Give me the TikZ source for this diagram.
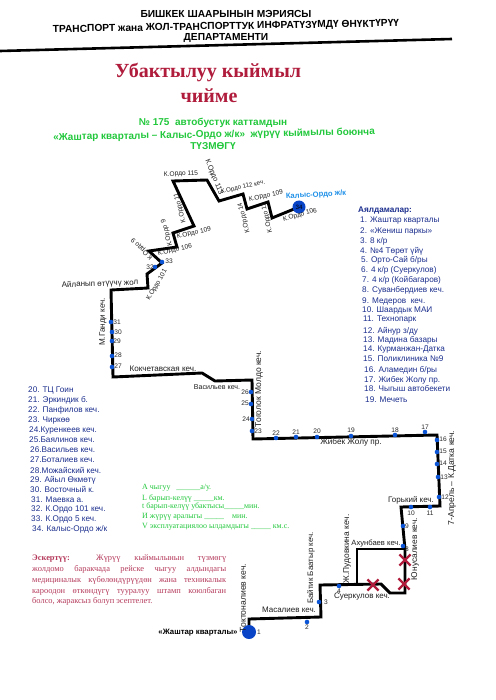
\documentclass[tikz,border=0pt]{standalone}
\usepackage{fontspec}
\setmainfont{Liberation Serif}
\setsansfont{Liberation Sans}
\usetikzlibrary{shapes.misc}
\definecolor{routeblue}{HTML}{0B55D6}
\definecolor{bigblue}{HTML}{0A45C8}
\definecolor{listblue}{HTML}{1C2F8E}
\definecolor{cyanblue}{HTML}{1E90E8}
\definecolor{brightgreen}{HTML}{22C83C}
\definecolor{crimson}{HTML}{B01C3C}
\definecolor{notered}{HTML}{B53A5C}
\newcommand{\fs}[1]{\fontsize{#1}{#1}\selectfont}
\tikzset{
  road/.style={font=\sffamily\fs{8},inner sep=0pt,text=black!88},
  roadv/.style={font=\sffamily\fs{8.5},inner sep=0pt,text=black!88,rotate=90},
  ordo/.style={font=\sffamily\fs{6.6},inner sep=0pt,text=black!88},
  num/.style={font=\sffamily\fs{6.6},inner sep=0pt,text=black!85},
  stopdot/.style={circle,fill=routeblue,inner sep=0pt,minimum size=4.6pt},
  routeline/.style={line width=2.9pt,black,line join=miter,line cap=round},
  redx/.style={cross out,draw=crimson,line width=2.2pt,minimum size=9pt,inner sep=0pt},
  listitem/.style={anchor=west,font=\sffamily\fs{8.2},text=listblue,inner sep=0pt},
  head/.style={font=\sffamily\bfseries\fs{10.2},inner sep=0pt,text=black},
  greenhead/.style={font=\sffamily\bfseries\fs{10},inner sep=0pt,text=brightgreen},
  redtitle/.style={font=\rmfamily\bfseries\fs{20},inner sep=0pt,text=crimson},
  greenitem/.style={anchor=west,font=\rmfamily\fs{7.95},inner sep=0pt,text=brightgreen},
}
\newcommand{\stopat}[6]{\node[stopdot] (s#1) at (#2,#3) {};\node[num] (n#1) at (#4,#5) {#6};}
\begin{document}
\begin{tikzpicture}[x=1pt,y=-1pt]
\useasboundingbox (0,0) rectangle (495,700);
\fill[white] (0,0) rectangle (495,700);
% header
\node[head] (h1) at (226,14) {БИШКЕК ШААРЫНЫН МЭРИЯСЫ};
\node[head,rotate=1] (h2) at (226,27) {ТРАНСПОРТ жана ЖОЛ-ТРАНСПОРТТУК ИНФРАТҮЗҮМДҮ ӨНҮКТҮРҮҮ};
\node[head] (h3) at (226,38.5) {ДЕПАРТАМЕНТИ};
\coordinate (ruleL) at (0,51);
\coordinate (ruleR) at (452,39);
\draw[line width=2.6pt] (ruleL) -- (ruleR);
\node[redtitle] (t1) at (208,73) {Убактылуу кыймыл};
\node[redtitle] (t2) at (209,96) {чийме};
\node[greenhead] (g1) at (213,123) {№ 175\ \ автобустук каттамдын};
\node[greenhead,rotate=1] (g2) at (214,135) {«Жаштар кварталы – Калыс-Ордо ж/к»\ \ жүрүү кыймылы боюнча};
\node[greenhead] (g3) at (213,146) {ТҮЗМӨГҮ};
% route waypoints
\coordinate (a1) at (249,632);
\coordinate (a2) at (249,619);
\coordinate (a3) at (321,617);
\coordinate (a4) at (320,585);
\coordinate (a5) at (381,584);
\coordinate (a6) at (390,593);
\coordinate (a7) at (405,593);
\coordinate (a8) at (405,549);
\coordinate (a9) at (401,507);
\coordinate (a10) at (440,506);
\coordinate (a11) at (437,435);
\coordinate (a12) at (253,439);
\coordinate (a13) at (252,380);
\coordinate (a14) at (215,381);
\coordinate (a15) at (202,373);
\coordinate (a16) at (113,377);
\coordinate (a17) at (111,290);
\coordinate (a18) at (148,288);
\coordinate (a19) at (147,274);
\coordinate (a20) at (162,263);
\coordinate (a21) at (149,251);
\coordinate (a22) at (177,247);
\coordinate (a23) at (173,233);
\coordinate (a24) at (194,226);
\coordinate (a25) at (173,181);
\coordinate (a26) at (207,180);
\coordinate (a27) at (219,201);
\coordinate (a28) at (243,194);
\coordinate (a29) at (247,209);
\coordinate (a30) at (268,202);
\coordinate (a31) at (272,218);
\coordinate (a32) at (299,207);
\coordinate (b1) at (357,584);
\coordinate (b2) at (357,549);
\draw[routeline] (a1) -- (a2) -- (a3) -- (a4) -- (a5) -- (a6) -- (a7) -- (a8) -- (a9) -- (a10) -- (a11) -- (a12) -- (a13) -- (a14) -- (a15) -- (a16) -- (a17) -- (a18) -- (a19) -- (a20) -- (a21) -- (a22) -- (a23) -- (a24) -- (a25) -- (a26) -- (a27) -- (a28) -- (a29) -- (a30) -- (a31) -- (a32);
\draw[routeline] (b1) -- (b2) -- (a8);
% terminal stops
\node[circle,fill=bigblue,inner sep=0pt,minimum size=14pt] (s1) at (249,632) {};
\node[num] (n1) at (259,632) {1};
\node[circle,fill=bigblue,inner sep=0pt,minimum size=13pt,font=\sffamily\fs{6.2}] (s34) at (299,207) {34};
% stops
\stopat{2}{307}{622}{307}{627}{2}
\stopat{3}{319}{602}{326}{602}{3}
\stopat{4}{339}{586}{339}{591}{4}
\stopat{8}{403}{546}{407}{549}{8}
\stopat{9}{403}{526}{407}{526}{9}
\stopat{10}{411}{507}{411}{513}{10}
\stopat{11}{430}{507}{430}{513}{11}
\stopat{12}{439}{497}{445}{497}{12}
\stopat{13}{438}{477}{444}{477}{13}
\stopat{14}{437}{464}{443}{463}{14}
\stopat{15}{437}{452}{443}{451}{15}
\stopat{16}{437}{440}{443}{439}{16}
\stopat{17}{425}{432}{425}{427}{17}
\stopat{18}{395}{435}{395}{430}{18}
\stopat{19}{351}{436}{351}{430}{19}
\stopat{20}{317}{437}{317}{431}{20}
\stopat{21}{296}{437}{296}{432}{21}
\stopat{22}{276}{438}{276}{433}{22}
\stopat{23}{252}{431}{258}{431}{23}
\stopat{24}{252}{419}{246}{419}{24}
\stopat{25}{251}{404}{245}{403}{25}
\stopat{26}{251}{392}{245}{392}{26}
\stopat{27}{112}{367}{118}{366}{27}
\stopat{28}{112}{356}{118}{355}{28}
\stopat{29}{112}{341}{117}{341}{29}
\stopat{30}{112}{332}{118}{332}{30}
\stopat{31}{111}{322}{117}{322}{31}
\stopat{32}{155}{267}{150}{267}{32}
\stopat{33}{162}{262}{169}{261}{33}
% crosses
\node[redx] (x5) at (373,585) {};
\node[redx] (x6) at (404,584) {};
\node[redx] (x7) at (405,560) {};
% road names
\node[ordo,rotate=2] (r1) at (181,174) {К.Ордо 115};
\node[ordo,rotate=-68,font=\sffamily\fs{7.2}] (r2) at (214,177) {К.Ордо 113};
\node[ordo,rotate=12,font=\sffamily\fs{6.2}] (r3) at (243,187) {К.Ордо 112 кеч.};
\node[ordo,rotate=12] (r4) at (266,196) {К.Ордо 109};
\node[ordo,rotate=105] (r5) at (244,218) {К.Ордо 14};
\node[ordo,rotate=103] (r6) at (267,218) {К.Ордо 11};
\node[ordo,rotate=15] (r7) at (300,215) {К.Ордо 106};
\node[ordo,rotate=105] (r8) at (180,208) {К.Ордо 11};
\node[ordo,rotate=12] (r9) at (194,233) {К.Ордо 109};
\node[ordo,rotate=12] (r10) at (175,250) {К.Ордо 106};
\node[ordo,rotate=105] (r11) at (167,233) {К.Ордо 9};
\node[ordo,rotate=135] (r12) at (142,249) {К.Ордо 9};
\node[ordo,rotate=60] (r13) at (157,285) {К.Ордо 101};
\node[road,rotate=2] (r14) at (100,284) {Айланып өтүүчү жол};
\node[roadv,font=\sffamily\fs{8.1}] (r15) at (103,322) {М.Ганди кеч.};
\node[road,font=\sffamily\fs{8.1}] (r16) at (163,369) {Кокчетавская кеч.};
\node[road,font=\sffamily\fs{7.1}] (r17) at (217,387) {Васильев кеч.};
\node[roadv] (r18) at (259,389) {Тоголок Молдо кеч.};
\node[road,font=\sffamily\fs{8.2}] (r19) at (351,442) {Жибек Жолу пр.};
\node[roadv,font=\sffamily\fs{8.6}] (r20) at (452,478) {7-Апрель – К.Датка кеч.};
\node[road] (r21) at (411,500) {Горький кеч.};
\node[road,font=\sffamily\fs{7.6}] (r22) at (376,543) {Ахунбаев кеч.};
\node[roadv,font=\sffamily\fs{8.4}] (r23) at (415,549) {Юнусалиев кеч.};
\node[roadv,font=\sffamily\fs{8.4}] (r24) at (347,549) {Ж.Пудовкина кеч.};
\node[roadv,font=\sffamily\fs{7.9}] (r25) at (311,568) {Байтик Баатыр кеч.};
\node[road] (r26) at (362,597) {Суеркулов кеч.};
\node[road] (r27) at (289,610) {Масалиев кеч.};
\node[roadv,font=\sffamily\fs{8.6}] (r28) at (243,598) {Токтоналиев кеч.};
\node[font=\sffamily\bfseries\fs{7.8},inner sep=0pt] (r29) at (198,633) {«Жаштар кварталы»};
\node[font=\sffamily\bfseries\fs{7.6},inner sep=0pt,text=cyanblue,rotate=3] (r30) at (316,195) {Калыс-Ордо ж/к};
% right list
\node[listitem,font=\sffamily\bfseries\fs{8.2}] (l0) at (358,211) {Аялдамалар:};
\node[listitem] (l1) at (360,221) {1. Жаштар кварталы};
\node[listitem] (l2) at (360,231) {2. «Жениш паркы»};
\node[listitem] (l3) at (360,241) {3. 8 к/р};
\node[listitem] (l4) at (360,251) {4. №4 Төрөт үйү};
\node[listitem] (l5) at (361,260) {5. Орто-Сай б/ры};
\node[listitem] (l6) at (361,270) {6. 4 к/р (Суеркулов)};
\node[listitem] (l7) at (362,280) {7. 4 к/р (Койбагаров)};
\node[listitem] (l8) at (362,290) {8. Суванбердиев кеч.};
\node[listitem] (l9) at (362,301) {9. Медеров\ \ кеч.};
\node[listitem] (l10) at (362,310) {10. Шаардык МАИ};
\node[listitem] (l11) at (363,320) {11. Технопарк};
\node[listitem] (l12) at (363,331) {12. Айнур з/ду};
\node[listitem] (l13) at (363,340) {13. Мадина базары};
\node[listitem] (l14) at (363,350) {14. Курманжан-Датка};
\node[listitem] (l15) at (363,359) {15. Поликлиника №9};
\node[listitem] (l16) at (364,370) {16. Аламедин б/ры};
\node[listitem] (l17) at (364,380) {17. Жибек Жолу пр.};
\node[listitem] (l18) at (364,389) {18. Чыгыш автобекети};
\node[listitem] (l19) at (365,400) {19. Мечеть};
% left list
\node[listitem] (m20) at (28,390) {20. ТЦ Гоин};
\node[listitem] (m21) at (28,400) {21. Эркиндик б.};
\node[listitem] (m22) at (28,410) {22. Панфилов кеч.};
\node[listitem] (m23) at (28,420) {23. Чиркөө};
\node[listitem] (m24) at (29,430) {24.Куренкеев кеч.};
\node[listitem] (m25) at (29,440) {25.Баялинов кеч.};
\node[listitem] (m26) at (30,450) {26.Васильев кеч.};
\node[listitem] (m27) at (30,460) {27.Боталиев кеч.};
\node[listitem] (m28) at (30,470) {28.Можайский кеч.};
\node[listitem] (m29) at (30,480) {29. Айыл Өкмөтү};
\node[listitem] (m30) at (30,489) {30. Восточный к.};
\node[listitem] (m31) at (31,500) {31. Маевка а.};
\node[listitem] (m32) at (31,509) {32. К.Ордо 101 кеч.};
\node[listitem] (m33) at (31,519) {33. К.Ордо 5 кеч.};
\node[listitem] (m34) at (32,529) {34. Калыс-Ордо ж/к};
% green info
\node[greenitem] (i1) at (142,488) {А чыгуу\ \ \ \_\_\_\_\_\_а/у.};
\node[greenitem] (i2) at (142,498) {L барып-келүү \_\_\_\_\_км.};
\node[greenitem] (i3) at (142,506.5) {t барып-келүү убактысы\_\_\_\_\_мин.};
\node[greenitem] (i4) at (142,517) {И жүрүү аралыгы \_\_\_\_\_\ \ \ \ мин.};
\node[greenitem] (i5) at (142,527) {V эксплуатациялоо ылдамдыгы \_\_\_\_\_ км.с.};
% note
\node[anchor=north west,inner sep=0pt,text width=194pt,align=justify,text=notered,font=\rmfamily\fontsize{8.4}{10.7}\selectfont] (note) at (32,555) {\textbf{Эскертүү:} Жүрүү кыймылынын түзмөгү\linebreak жолдомо баракчада рейске чыгуу алдындагы\linebreak медициналык күбөлөндүрүүдөн жана техникалык\linebreak кароодон өткөндүгү тууралуу штамп коюлбаган\linebreak болсо, жараксыз болуп эсептелет.};
\end{tikzpicture}
\end{document}
